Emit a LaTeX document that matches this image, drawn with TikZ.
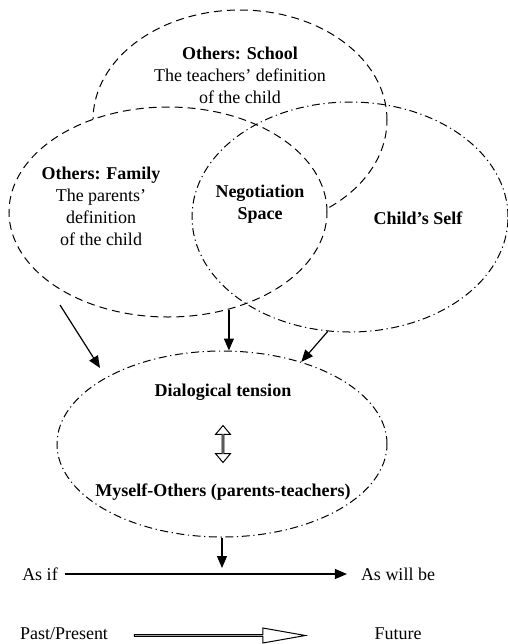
\documentclass[tikz,border=0pt]{standalone}
\usepackage{fontspec}
\setmainfont{Liberation Serif}
\usepackage{tikz}
\usetikzlibrary{shapes.geometric,shapes.arrows,arrows.meta}

\begin{document}
\begin{tikzpicture}[x=0.5pt, y=-0.5pt,
	font=\fontsize{9}{11}\selectfont,
	dashring/.style={ellipse, draw=black, line width=0.5pt, inner sep=0pt,
		dash pattern=on 4pt off 2.5pt},
	dotring/.style={ellipse, draw=black, line width=0.5pt, inner sep=0pt,
		dash pattern=on 4pt off 1.8pt on 0.6pt off 1.8pt},
	flow/.style={line width=0.6pt, -{Triangle[length=6pt,width=5pt]}},
	hollow/.style={draw=black, line width=0.5pt, inner sep=0pt}]
				\useasboundingbox (0,0) rectangle (508,644);
				\node[dashring,
				minimum width = 147pt,
				minimum height = 110pt] (1) at(240,120){};
				\node[dashring, fill=white,
				minimum width = 159pt,
				minimum height = 105pt] (2) at(168,212){};
				\node[dotring,
				minimum width = 158pt,
				minimum height = 115pt] (3) at(350,217){};
				\node[dotring,
				minimum width = 165pt,
				minimum height = 93pt] (4) at(222,444){};
				\node[align=center] (5) at(240,75){\textbf{Others: School}\\The teachers' definition\\of the child};
				\node[align=center] (6) at(101,206){\textbf{Others: Family}\\The parents'\\definition\\of the child};
				\node[align=center, font=\fontsize{9}{11}\selectfont\bfseries] (7) at(260,204){Negotiation\\Space};
				\node[font=\fontsize{9}{11}\selectfont\bfseries] (8) at(418,218){Child's Self};
				\node[font=\fontsize{9}{11}\selectfont\bfseries] (9) at(223,392){Dialogical tension};
				\node[hollow, double arrow, rotate=90,
				minimum height = 18.5pt,
				minimum width = 7.5pt,
				double arrow head extend=2pt,
				double arrow tip angle=80] (10) at(223,444){};
				\node[font=\fontsize{9}{11}\selectfont\bfseries] (11) at(223,492){Myself-Others (parents-teachers)};
				\node (12) at(40,574){As if};
				\node (13) at(398,574){As will be};
				\node (14) at(64,634){Past/Present};
				\node (15) at(398,634){Future};
				\node[hollow, single arrow,
				minimum height = 85.5pt,
				minimum width = 7.5pt,
				single arrow head extend=2pt,
				single arrow tip angle=20] (16) at(217.5,635.5){};
				\coordinate (17) at(60,305);
				\coordinate (18) at(100,368);
				\coordinate (19) at(222,568);
				\draw[flow] (17) -- (18);
				\draw[flow] (2.-58) -- (2.-58 |- 4.north);
				\draw[flow] (3.-101) -- (4.46);
				\draw[flow] (4.south) -- (19);
				\draw[flow, shorten >=3.5pt] (12) -- (13);
			\end{tikzpicture}
\end{document}
